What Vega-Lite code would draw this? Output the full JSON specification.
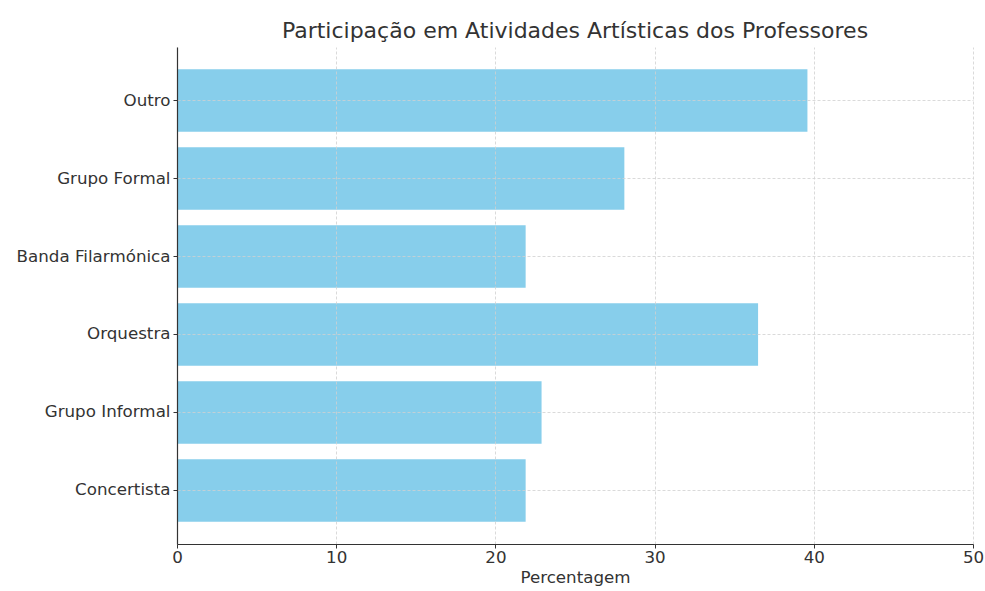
{
  "$schema": "https://vega.github.io/schema/vega-lite/v6.json",
  "width": 796,
  "height": 497,
  "autosize": {"type": "none"},
  "padding": {"left": 177, "top": 47, "right": 12, "bottom": 47},
  "background": "white",
  "title": {
    "text": "Participação em Atividades Artísticas dos Professores",
    "font": "DejaVu Sans",
    "fontSize": 22,
    "fontWeight": "normal",
    "color": "#333333",
    "anchor": "middle",
    "offset": 4
  },
  "data": {
    "values": [
      {"categoria": "Outro", "percentagem": 39.6},
      {"categoria": "Grupo Formal", "percentagem": 28.1},
      {"categoria": "Banda Filarmónica", "percentagem": 21.9},
      {"categoria": "Orquestra", "percentagem": 36.5},
      {"categoria": "Grupo Informal", "percentagem": 22.9},
      {"categoria": "Concertista", "percentagem": 21.9}
    ]
  },
  "mark": {"type": "bar", "color": "#87CEEB"},
  "encoding": {
    "y": {
      "field": "categoria",
      "type": "nominal",
      "sort": null,
      "scale": {"paddingInner": 0.2, "paddingOuter": 0.286},
      "axis": {
        "title": null,
        "zindex": 1,
        "grid": true,
        "gridDash": [3, 2],
        "gridColor": "#d0d0d0",
        "gridWidth": 0.8,
        "tickBand": "center"
      }
    },
    "x": {
      "field": "percentagem",
      "type": "quantitative",
      "scale": {"domain": [0, 50], "nice": false},
      "axis": {
        "title": "Percentagem",
        "values": [0, 10, 20, 30, 40, 50],
        "labelFlush": false,
        "labelPadding": 1,
        "zindex": 1,
        "grid": true,
        "gridDash": [3, 2],
        "gridColor": "#d0d0d0",
        "gridWidth": 0.8,
        "titlePadding": 4
      }
    }
  },
  "config": {
    "view": {"stroke": null},
    "axis": {
      "labelFont": "DejaVu Sans",
      "labelFontSize": 16.7,
      "labelColor": "#333333",
      "titleFont": "DejaVu Sans",
      "titleFontSize": 16.7,
      "titleFontWeight": "normal",
      "titleColor": "#333333",
      "domainColor": "#333333",
      "domainWidth": 1.2,
      "tickColor": "#333333",
      "tickSize": 4,
      "labelPadding": 3
    }
  }
}
